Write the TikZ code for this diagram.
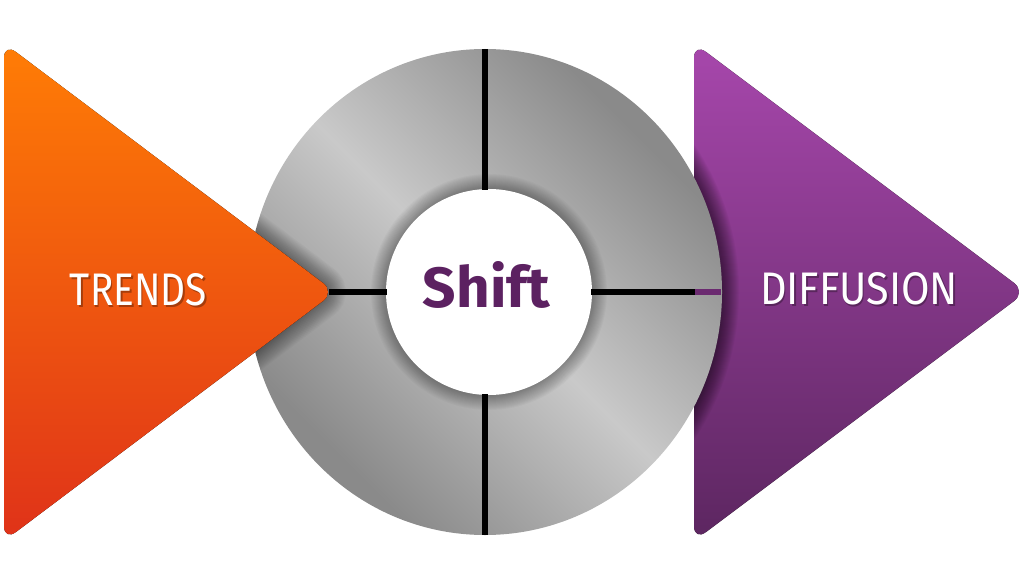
\documentclass[tikz,border=0pt]{standalone}
\usepackage{fontspec}
\setmainfont{Fira Sans}
\usepackage{graphicx}
\definecolor{orangetop}{HTML}{FF7D05}
\definecolor{orangebot}{HTML}{DF3219}
\definecolor{purptop}{HTML}{A747AC}
\definecolor{purpbot}{HTML}{5C2660}
\definecolor{shiftcol}{HTML}{5C2161}
\definecolor{purpline}{HTML}{6B2A70}
\definecolor{gdark}{HTML}{8A8A8A}
\definecolor{gmid}{HTML}{A8A8A8}
\definecolor{glight}{HTML}{C9C9C9}
\pgfdeclarehorizontalshading{ringshade}{100bp}{color(0bp)=(gdark); color(27bp)=(gdark); color(38bp)=(gmid); color(50bp)=(glight); color(62bp)=(gmid); color(73bp)=(gdark); color(100bp)=(gdark)}
\tikzset{
  divider/.style={line width=6pt, black},
  labeltext/.style={inner sep=0pt, text=white},
  shadowtext/.style={inner sep=0pt, text=black, opacity=0.3},
  softshadow/.style={black, opacity=0.025},
}
\begin{document}
\begin{tikzpicture}[x=1pt,y=-1pt]
\useasboundingbox (0,0) rectangle (1024,577);
% key points
\coordinate (c) at (485,292);
\coordinate (ic) at (489,292);
\def\orangepath{(4,43) -- (335,292) -- (4,541) -- cycle}
\def\purplepath{(694,43) -- (1026,292) -- (694,541) -- cycle}
% purple triangle
\fill[rounded corners=15pt, top color=purptop, bottom color=purpbot] \purplepath;
% shadow of ring on purple
\begin{scope}
  \clip[rounded corners=15pt] \purplepath;
  \foreach \w in {2,4,...,34} {
    \draw[black, opacity=0.035, line width=\w pt] (c) ellipse [x radius=237, y radius=243];
  }
\end{scope}
% ring
\shade[shading=ringshade, shading angle=45] (c) ellipse [x radius=237, y radius=243];
% inner shadow around hub
\foreach \w in {2,4,...,30} {
  \draw[softshadow, line width=\w pt] (ic) circle [radius=103];
}
% hub
\fill[white] (ic) circle [radius=103];
% dividers
\coordinate (topout) at (485,49);
\coordinate (topin) at (485,190);
\coordinate (botin) at (485,394);
\coordinate (botout) at (485,535);
\coordinate (leftin) at (387,292);
\coordinate (rightin) at (591,292);
\coordinate (purpedge) at (695,292);
\coordinate (ringedge) at (721,292);
\coordinate (tip) at (329,292);
\draw[divider] (topout) -- (topin);
\draw[divider] (botin) -- (botout);
\draw[divider] (tip) -- (leftin);
\draw[divider] (rightin) -- (purpedge);
\draw[divider, purpline] (purpedge) -- (ringedge);
% shadow of orange on ring
\begin{scope}
  \clip (c) ellipse [x radius=237, y radius=243];
  \foreach \w in {2,4,...,36} {
    \draw[softshadow, line width=\w pt, rounded corners=15pt] \orangepath;
  }
\end{scope}
% orange triangle
\fill[rounded corners=15pt, top color=orangetop, bottom color=orangebot] \orangepath;
% texts
\node[shadowtext] (trendsshadow) at (140,291.5) {\resizebox{137pt}{32pt}{TRENDS}};
\node[labeltext] (trends) at (138.5,290) {\resizebox{137pt}{32pt}{TRENDS}};
\node[shadowtext] (diffshadow) at (860.5,290.5) {\resizebox{198pt}{32pt}{DIFFUSION}};
\node[labeltext] (diffusion) at (859,289) {\resizebox{198pt}{32pt}{DIFFUSION}};
\node[inner sep=0pt, text=shiftcol] (shift) at (486.5,285) {\resizebox{127pt}{46pt}{\bfseries Shift}};
\end{tikzpicture}
\end{document}
